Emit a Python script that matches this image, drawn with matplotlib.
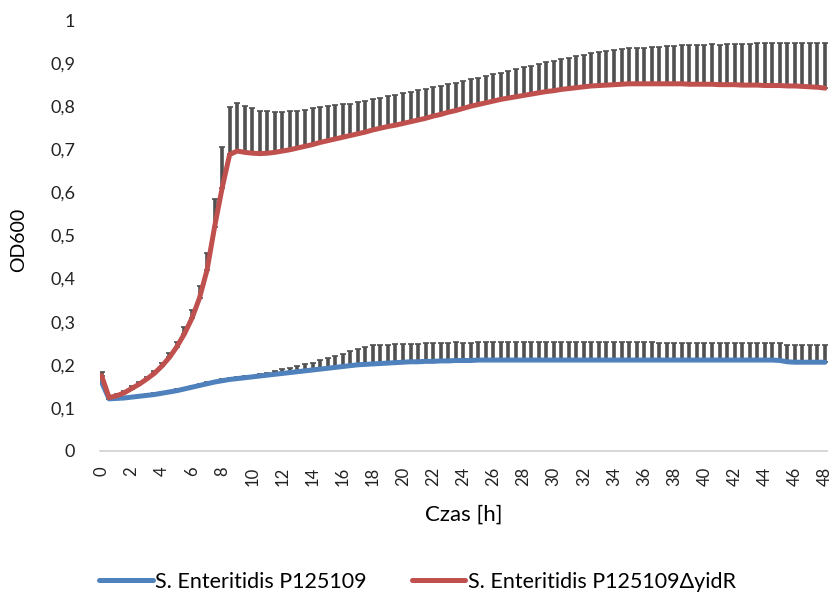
import numpy as np
import matplotlib
matplotlib.use("Agg")
import matplotlib.pyplot as plt

plt.rcParams['font.family'] = ['Lato', 'DejaVu Sans']

# --- dane (odczyt co 0,5 h) ---
czas = np.arange(97) * 0.5

od_wt = [0.160, 0.121, 0.122, 0.123, 0.125, 0.127, 0.129, 0.131, 0.134, 0.137,
         0.140, 0.144, 0.148, 0.152, 0.156, 0.160, 0.163, 0.166, 0.168, 0.170,
         0.172, 0.174, 0.176, 0.178, 0.180, 0.182, 0.184, 0.186, 0.188, 0.190,
         0.192, 0.194, 0.196, 0.198, 0.200, 0.201, 0.202, 0.203, 0.204, 0.205,
         0.206, 0.207, 0.207, 0.208, 0.208, 0.209, 0.209, 0.210, 0.210, 0.210,
         0.211, 0.211, 0.211, 0.211, 0.211, 0.211, 0.211, 0.211, 0.211, 0.211,
         0.211, 0.211, 0.211, 0.211, 0.211, 0.211, 0.211, 0.211, 0.211, 0.211,
         0.211, 0.211, 0.211, 0.211, 0.211, 0.211, 0.211, 0.211, 0.211, 0.211,
         0.211, 0.211, 0.211, 0.211, 0.211, 0.211, 0.211, 0.211, 0.211, 0.211,
         0.210, 0.207, 0.206, 0.206, 0.206, 0.206, 0.206]

sd_wt = [0.006, 0.003, 0.003, 0.003, 0.003, 0.003, 0.003, 0.003, 0.003, 0.003,
         0.003, 0.003, 0.003, 0.003, 0.003, 0.003, 0.003, 0.003, 0.003, 0.003,
         0.003, 0.004, 0.005, 0.007, 0.010, 0.011, 0.013, 0.015, 0.017, 0.020,
         0.023, 0.026, 0.030, 0.033, 0.037, 0.040, 0.043, 0.043, 0.043, 0.043,
         0.043, 0.042, 0.042, 0.042, 0.042, 0.042, 0.042, 0.042, 0.041, 0.041,
         0.041, 0.041, 0.041, 0.041, 0.041, 0.041, 0.041, 0.042, 0.042, 0.042,
         0.042, 0.042, 0.042, 0.042, 0.042, 0.042, 0.042, 0.042, 0.042, 0.042,
         0.042, 0.042, 0.042, 0.042, 0.040, 0.040, 0.040, 0.040, 0.040, 0.040,
         0.040, 0.040, 0.040, 0.040, 0.040, 0.040, 0.040, 0.040, 0.040, 0.040,
         0.040, 0.040, 0.040, 0.040, 0.040, 0.040, 0.040]

od_mut = [0.175, 0.124, 0.128, 0.135, 0.145, 0.155, 0.167, 0.180, 0.197, 0.217,
          0.242, 0.272, 0.308, 0.355, 0.420, 0.520, 0.610, 0.688, 0.696, 0.693,
          0.691, 0.690, 0.691, 0.693, 0.696, 0.699, 0.703, 0.707, 0.711, 0.716,
          0.720, 0.724, 0.728, 0.732, 0.736, 0.740, 0.745, 0.749, 0.753, 0.756,
          0.760, 0.764, 0.768, 0.772, 0.777, 0.781, 0.786, 0.790, 0.795, 0.800,
          0.804, 0.808, 0.812, 0.816, 0.819, 0.822, 0.825, 0.828, 0.831, 0.834,
          0.836, 0.839, 0.841, 0.843, 0.845, 0.847, 0.848, 0.849, 0.850, 0.851,
          0.852, 0.852, 0.852, 0.852, 0.852, 0.852, 0.852, 0.852, 0.851, 0.851,
          0.851, 0.851, 0.850, 0.850, 0.850, 0.849, 0.849, 0.849, 0.848, 0.848,
          0.848, 0.847, 0.847, 0.846, 0.845, 0.844, 0.842]

sd_mut = [0.008, 0.004, 0.004, 0.004, 0.005, 0.005, 0.005, 0.006, 0.008, 0.010,
          0.012, 0.015, 0.020, 0.028, 0.040, 0.065, 0.095, 0.110, 0.112, 0.108,
          0.104, 0.100, 0.097, 0.094, 0.091, 0.089, 0.087, 0.085, 0.084, 0.082,
          0.080, 0.078, 0.076, 0.074, 0.073, 0.072, 0.071, 0.070, 0.070, 0.070,
          0.070, 0.069, 0.069, 0.068, 0.068, 0.067, 0.066, 0.065, 0.064, 0.063,
          0.062, 0.062, 0.062, 0.062, 0.063, 0.064, 0.065, 0.066, 0.067, 0.068,
          0.069, 0.071, 0.072, 0.074, 0.075, 0.076, 0.077, 0.078, 0.080, 0.081,
          0.082, 0.083, 0.084, 0.085, 0.086, 0.087, 0.088, 0.089, 0.090, 0.091,
          0.092, 0.093, 0.093, 0.094, 0.095, 0.096, 0.096, 0.097, 0.098, 0.098,
          0.098, 0.099, 0.099, 0.100, 0.101, 0.102, 0.104]

x_ticks = list(range(0, 49, 2))
y_ticks = [0, 0.1, 0.2, 0.3, 0.4, 0.5, 0.6, 0.7, 0.8, 0.9, 1.0]
y_labels = ['0', '0,1', '0,2', '0,3', '0,4', '0,5', '0,6', '0,7', '0,8', '0,9', '1']

label_wt = 'S. Enteritidis P125109'
label_mut = 'S. Enteritidis P125109ΔyidR'

niebieski = '#4F81BD'
czerwony = '#C0504D'
szary = '#505050'

fig = plt.figure(figsize=(8.37, 5.96), dpi=100)
ax = fig.add_axes([0.1195, 0.2433, 0.8680, 0.7231])

# słupki błędów (tylko w górę)
zera = np.zeros(len(czas))
for od, sd in [(od_wt, sd_wt), (od_mut, sd_mut)]:
    ax.errorbar(czas, od, yerr=[zera, sd], fmt='none', ecolor=szary,
                elinewidth=2.6, capsize=2.5, capthick=1.2, zorder=2)

ax.plot(czas, od_wt, color=niebieski, lw=3.6, label=label_wt, zorder=3,
        solid_capstyle='round')
ax.plot(czas, od_mut, color=czerwony, lw=3.6, label=label_mut, zorder=3,
        solid_capstyle='round')

ax.set_xlim(-0.1, 48.1)
ax.set_ylim(0, 1)
ax.set_xticks(x_ticks)
ax.set_xticklabels([str(t) for t in x_ticks], rotation=90, fontsize=12)
ax.set_yticks(y_ticks)
ax.set_yticklabels(y_labels, fontsize=13)
ax.tick_params(axis='both', length=0, colors='#222222')
ax.tick_params(axis='y', pad=18)
ax.tick_params(axis='x', pad=11)

for s in ['top', 'right', 'left']:
    ax.spines[s].set_visible(False)
ax.spines['bottom'].set_color('#d0d0d0')
ax.spines['bottom'].set_linewidth(1.2)

ax.set_xlabel('Czas [h]', fontsize=16, labelpad=14)
fig.text(0.022, 1 - 240 / 596, 'OD600', rotation=90, va='center', ha='center',
         fontsize=14)

fig.legend(loc='center left', bbox_to_anchor=(0.118, 1 - 582 / 596), ncol=2,
           frameon=False, fontsize=15.5, handlelength=2.5, handletextpad=0.1,
           columnspacing=2.1, borderaxespad=0, borderpad=0)

fig.savefig('out.png', dpi=100)
